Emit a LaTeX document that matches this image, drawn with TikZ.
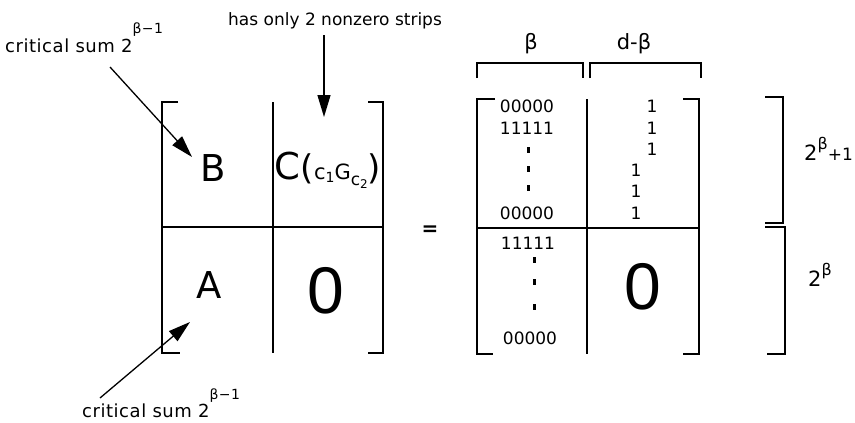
\documentclass[tikz,border=0pt]{standalone}
\usepackage{fontspec}
\setmainfont{DejaVu Sans}
\newfontfamily\lblfont{DejaVu Sans}
\newfontfamily\critfont[LetterSpace=3]{DejaVu Sans}
\newfontfamily\zerofont{Liberation Sans}
\usetikzlibrary{arrows.meta}

% raised exponent in a smaller size
\newcommand{\upexp}[3]{\raisebox{#1}{\fontsize{#2}{#2}\selectfont #3}}

\begin{document}
\begin{tikzpicture}[x=1pt, y=-1pt,
    brk/.style={line width=1.6pt},
    lbl/.style={font=\fontsize{17}{17}\lblfont, inner sep=0pt},
    crit/.style={font=\fontsize{18}{18}\critfont, inner sep=0pt},
    big/.style={font=\fontsize{37}{37}\selectfont, inner sep=0pt},
    zero/.style={font=\fontsize{66}{66}\zerofont, inner sep=0pt},
    ent/.style={font=\fontsize{17}{17}\selectfont, inner sep=0pt},
    dim/.style={font=\fontsize{21}{21}\selectfont, inner sep=0pt},
    pnt/.style={-{Triangle[length=22pt, width=13pt]}, line width=1.3pt},
    vdot/.style={fill, minimum width=3pt, minimum height=6pt, inner sep=0pt}
  ]
  \useasboundingbox (0,0) rectangle (855,423);

  % left block matrix
  \draw[brk] (178,102) -- (162,102) -- (162,353) -- (180,353);
  \draw[brk] (368,102) -- (383,102) -- (383,353) -- (368,353);
  \draw[brk] (273,102) -- (273,353);
  \draw[brk] (162,227) -- (383,227);

  \node[big] (B) at (213,168) {B};
  \node[big] (C) at (328,170) {C{\fontsize{34}{34}\selectfont(}{\fontsize{21}{21}\selectfont
      c\upexp{-3pt}{14}{1}G\upexp{-6pt}{17}{c\upexp{-3pt}{12}{2}}}{\fontsize{34}{34}\selectfont)}};
  \node[big] (A) at (209,285) {A};
  \node[zero] (O1) at (326,291) {0};

  \node[font=\fontsize{20}{20}\bfseries, inner sep=0pt] (eq) at (430,231) {=};

  % right matrix
  \draw[brk] (495,99) -- (477,99) -- (477,354) -- (493,354);
  \draw[brk] (683,99) -- (699,99) -- (699,354) -- (683,354);
  \draw[brk] (587,99) -- (587,354);
  \draw[brk] (477,228) -- (699,228);

  \node[ent] (r1) at (527,106) {00000};
  \node[ent] (r2) at (527,128) {11111};
  \node[vdot] (d1) at (528,150) {};
  \node[vdot] (d2) at (528,169) {};
  \node[vdot] (d3) at (528,188) {};
  \node[ent] (r3) at (527,213) {00000};
  \foreach \y/\n in {106/1, 128/2, 149/3} {
    \node[ent] (u\n) at (652,\y) {1};
  }
  \foreach \y/\n in {170/4, 191/5, 213/6} {
    \node[ent] (u\n) at (636,\y) {1};
  }
  \node[ent] (r4) at (528,243) {11111};
  \node[vdot] (d4) at (534,260) {};
  \node[vdot] (d5) at (534,282) {};
  \node[vdot] (d6) at (534,307) {};
  \node[ent] (r5) at (530,338) {00000};
  \node[zero] (O2) at (643,287) {0};

  % column widths
  \draw[brk] (477,78) -- (477,63) -- (583,63) -- (583,78);
  \draw[brk] (590,78) -- (590,63) -- (701,63) -- (701,78);
  \node[dim] (wb) at (531,44) {β};
  \node[dim] (wd) at (634,44) {d-β};

  % row heights
  \draw[brk] (765,97) -- (783,97) -- (783,223) -- (765,223);
  \draw[brk] (765,227) -- (785,227) -- (785,354) -- (767,354);
  \node[dim, anchor=base west] (h1) at (804,160) {2\upexp{11pt}{16}{β}{\fontsize{17}{17}\selectfont+1}};
  \node[dim, anchor=base west] (h2) at (808,286) {2\upexp{11pt}{16}{β}};

  % annotations
  \node[crit, anchor=base west] (critB) at (5,52) {critical sum 2\upexp{18pt}{14}{β−1}};
  \node[lbl, anchor=base west] (strips) at (228,25) {has only 2 nonzero strips};
  \node[crit, anchor=base west] (critA) at (82,417) {critical sum 2\upexp{18pt}{14}{β−1}};

  \coordinate (critBfrom) at (110,67);
  \coordinate (critBto) at (192,157);
  \coordinate (stripsfrom) at (324,35);
  \coordinate (stripsto) at (324,117);
  \coordinate (critAfrom) at (100,398);
  \coordinate (critAto) at (190,322);
  \draw[pnt] (critBfrom) -- (critBto);
  \draw[pnt] (stripsfrom) -- (stripsto);
  \draw[pnt] (critAfrom) -- (critAto);
\end{tikzpicture}
\end{document}
